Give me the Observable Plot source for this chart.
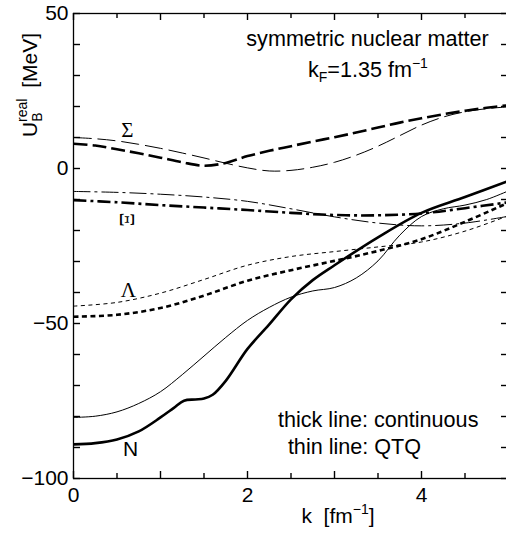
<!DOCTYPE html>
<html>
<head>
<meta charset="utf-8">
<script src="https://cdn.jsdelivr.net/npm/d3@7"></script>
<script src="https://cdn.jsdelivr.net/npm/@observablehq/plot@0.6"></script>
<style>
  html, body { margin: 0; padding: 0; background: #fff; overflow: hidden; }
  svg { display: block; }
  text { white-space: pre; }
</style>
</head>
<body>
<div id="chart"></div>
<script>
// ---- data ----
const kGrid = [0,0.25,0.5,0.75,1,1.25,1.5,1.75,2,2.25,2.5,2.75,3,3.25,3.5,3.75,4,4.25,4.5,4.75,5];
const kHalf = [0,0.5,1,1.5,2,2.5,3,3.5,4,4.5,5];
const kNCont = [0,0.25,0.5,0.75,1.0,1.15,1.27,1.4,1.5,1.6,1.75,2.0,2.25,2.5,2.75,3.0,3.5,4.0,4.5,5.0];

const sigmaCont = [8.0,7.4,6.2,4.9,3.5,2.0,0.9,1.8,4.0,5.7,7.2,8.7,10.1,11.6,13.2,14.8,16.2,17.5,18.6,19.6,20.4];
const sigmaQTQ  = [10.0,9.6,8.9,7.8,6.5,5.0,3.4,1.7,0.2,-0.8,-0.6,0.4,2.0,4.3,7.2,10.6,14.0,16.6,18.3,19.3,19.9];

const xiCont = [-10.2,-10.9,-11.8,-12.6,-13.4,-14.3,-15.0,-15.1,-14.5,-12.8,-10.9];
const xiQTQ  = [-7.4,-7.7,-8.3,-9.2,-10.6,-13.0,-15.6,-17.6,-18.5,-17.6,-15.4];

const lambdaCont = [-47.8,-47.2,-45.0,-41.0,-36.2,-32.8,-29.8,-26.6,-22.8,-17.2,-11.0];
const lambdaQTQ  = [-44.4,-43.2,-40.2,-35.8,-31.2,-28.4,-26.8,-25.3,-23.7,-20.2,-15.2];

const nCont = [-89,-88.6,-87.4,-84.8,-80.3,-77.3,-74.9,-74.5,-74.2,-73,-68.5,-58.2,-50.3,-42.2,-36,-31.2,-22.2,-14.3,-9.2,-4.0];
const nQTQ  = [-80.3,-79.9,-78.5,-75.8,-72,-66.5,-60.5,-54.5,-49,-44.8,-41.5,-39.5,-38.4,-35.3,-29.8,-21.5,-15.5,-13.0,-11.8,-10.0,-7.2];

// ticks
const xMajor = [0,1,2,3,4,5];
const xMinor = [0.5,1.5,2.5,3.5,4.5];
const xLabels = [0,2,4];
const yTicks = [-100,-90,-80,-70,-60,-50,-40,-30,-20,-10,0,10,20,30,40,50];
const yLabels = [-100,-50,0,50];

// curve labels
const greekText = ["Σ","Λ"];
const greekK = [0.62,0.63];
const greekV = [12.3,-39.3];
const xiText = ["Ξ"];
const xiK = [0.62];
const xiV = [-16.5];
const nText = ["N"];
const nK = [0.655];
const nV = [-90.5];

const SANS = "'Liberation Sans', Arial, Helvetica, sans-serif";
const SERIF = "'Liberation Serif', 'Times New Roman', serif";

const W = 506, H = 534, ML = 73, MR = -2, MT = 13, MB = 56;
const plotW = W - ML - MR, plotH = H - MT - MB;

const line = (ks, vs, w, dash) => Plot.line(vs, {
  x: ks, y: vs, stroke: "black", strokeWidth: w, strokeDasharray: dash,
  curve: "catmull-rom", strokeLinecap: "butt"
});

const plot = Plot.plot({
  width: W,
  height: H,
  marginLeft: ML,
  marginRight: MR,
  marginTop: MT,
  marginBottom: MB,
  style: {fontFamily: SANS, fontSize: "21px", background: "white", color: "black"},
  x: {domain: [0, 5]},
  y: {domain: [-100, 50]},
  marks: [
    line(kGrid, sigmaQTQ, 1, "18,6"),
    line(kGrid, sigmaCont, 2.6, "14,5"),
    line(kHalf, xiQTQ, 1, "17,4,3,4"),
    line(kHalf, xiCont, 2.6, "13,4,3,4"),
    line(kHalf, lambdaQTQ, 1, "4,3.5"),
    line(kHalf, lambdaCont, 2.6, "5,3.5"),
    line(kGrid, nQTQ, 1, null),
    line(kNCont, nCont, 2.6, null),
    Plot.frame({stroke: "black", strokeWidth: 1.3}),
    // inward ticks
    Plot.tickX(xMajor, {x: d => d, insetTop: plotH - 7, stroke: "black", strokeWidth: 1.4}),
    Plot.tickX(xMinor, {x: d => d, insetTop: plotH - 5, stroke: "black", strokeWidth: 1.4}),
    Plot.tickX(xMajor, {x: d => d, insetBottom: plotH - 7, stroke: "black", strokeWidth: 1.4}),
    Plot.tickX(xMinor, {x: d => d, insetBottom: plotH - 5, stroke: "black", strokeWidth: 1.4}),
    Plot.tickY(yTicks, {y: d => d, insetRight: plotW - 7, stroke: "black", strokeWidth: 1.4}),
    Plot.tickY(yTicks, {y: d => d, insetLeft: plotW - 7, stroke: "black", strokeWidth: 1.4}),
    Plot.axisX(xLabels, {anchor: "bottom", tickSize: 0, tickPadding: 9, label: null, fontSize: 21}),
    Plot.axisY(yLabels, {anchor: "left", tickSize: 0, tickPadding: 5, label: null, fontSize: 21}),
    Plot.text(greekText, {x: greekK, y: greekV, text: d => d, fontFamily: SERIF, fontSize: 21, fill: "black"}),
    Plot.text(xiText, {x: xiK, y: xiV, text: d => d, fontFamily: SERIF, fontSize: 22, rotate: 90, fill: "black"}),
    Plot.text(nText, {x: nK, y: nV, text: d => d, fontFamily: SANS, fontSize: 21, fill: "black"})
  ]
});

document.getElementById("chart").appendChild(plot);

// ---- annotations with sub/superscripts, placed through the plot's scales ----
const sx = plot.scale("x"), sy = plot.scale("y");
const svg = d3.select(plot);
const ann = svg.append("g").attr("font-family", SANS).attr("font-size", 21.6).attr("fill", "black");

ann.append("text").attr("x", sx.apply(3.385)).attr("y", sy.apply(39.45))
  .attr("text-anchor", "middle").text("symmetric nuclear matter");

const kf = ann.append("text").attr("x", sx.apply(3.39)).attr("y", sy.apply(29.5)).attr("text-anchor", "middle");
kf.append("tspan").text("k");
kf.append("tspan").attr("font-size", 14).attr("dy", 5).text("F");
kf.append("tspan").attr("dy", -5).text("=1.35 fm");
kf.append("tspan").attr("font-size", 14).attr("dy", -9).text("−1");

ann.append("text").attr("x", sx.apply(2.356)).attr("y", sy.apply(-83.4))
  .attr("text-anchor", "start").text("thick line: continuous");
ann.append("text").attr("x", sx.apply(2.47)).attr("y", sy.apply(-92.2))
  .attr("text-anchor", "start").text("thin line: QTQ");

// x axis title
const xt = ann.append("text").attr("x", 338).attr("y", 523).attr("text-anchor", "middle").attr("font-size", 21);
xt.append("tspan").text("k  [fm");
xt.append("tspan").attr("font-size", 14).attr("dy", -9).text("−1");
xt.append("tspan").attr("dy", 9).text("]");

// y axis title (rotated)
const yg = ann.append("g").attr("transform", "translate(37,85) rotate(-90)").attr("font-size", 21);
const yu = yg.append("text").attr("x", -52).attr("y", 0).attr("text-anchor", "start");
yu.append("tspan").text("U");
yu.append("tspan").attr("font-size", 14).attr("dy", 5).text("B");
yu.append("tspan").attr("font-size", 14).attr("dx", -9.5).attr("dy", -15).text("real");
yg.append("text").attr("x", 52).attr("y", 0).attr("text-anchor", "end").text("[MeV]");
</script>
</body>
</html>
